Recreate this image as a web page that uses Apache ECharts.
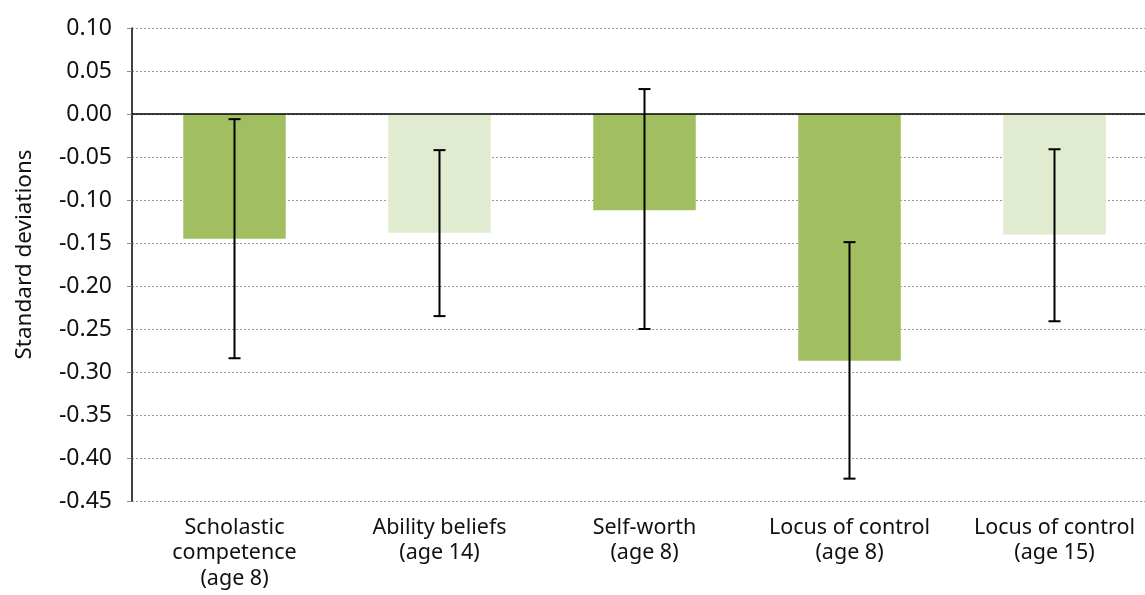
<!DOCTYPE html>
<html>
<head>
<meta charset="utf-8">
<script src="https://cdn.jsdelivr.net/npm/echarts@6/dist/echarts.min.js"></script>
<style>
  html, body { margin: 0; padding: 0; background: #fff; }
  #chart { width: 1145px; height: 595px; }
</style>
</head>
<body>
<div id="chart"></div>
<script>
const categories = [
  'Scholastic\ncompetence\n(age 8)',
  'Ability beliefs\n(age 14)',
  'Self-worth\n(age 8)',
  'Locus of control\n(age 8)',
  'Locus of control\n(age 15)'
]
const values = [-0.145, -0.138, -0.112, -0.287, -0.140]
const errLow = [-0.284, -0.235, -0.250, -0.424, -0.241]
const errHigh = [-0.006, -0.042, 0.029, -0.149, -0.041]
const barColors = ['#a1bf60', '#e0ebcf', '#a1bf60', '#a1bf60', '#e0ebcf']

const textColor = '#111'
const font = 'Noto Sans'

const chart = echarts.init(document.getElementById('chart'))

chart.setOption({
  animation: false,
  grid: {
    left: 132,
    top: 28,
    right: -12,
    bottom: 94,
    outerBoundsMode: 'none'
  },
  xAxis: {
    type: 'category',
    data: categories,
    axisLine: { show: false, onZero: false },
    axisTick: { show: false },
    axisLabel: {
      color: textColor,
      fontFamily: font,
      fontSize: 21.5,
      lineHeight: 25.5,
      margin: 14,
      interval: 0
    }
  },
  yAxis: {
    type: 'value',
    min: -0.45,
    max: 0.1,
    interval: 0.05,
    name: 'Standard deviations',
    nameLocation: 'middle',
    nameGap: 96,
    nameTextStyle: { color: textColor, fontFamily: font, fontSize: 22.5, padding: [0, 0, 0, 20] },
    axisLine: { show: true, lineStyle: { color: '#000', width: 1.5 } },
    axisTick: { show: true, length: 5, lineStyle: { color: '#888' } },
    axisLabel: {
      color: textColor,
      fontFamily: font,
      fontSize: 23,
      margin: 20,
      formatter: v => v.toFixed(2)
    },
    splitLine: {
      show: true,
      lineStyle: { color: '#999', type: [2, 2], width: 1 }
    }
  },
  series: [
    {
      type: 'bar',
      barWidth: '50%',
      data: values.map((v, i) => ({ value: v, itemStyle: { color: barColors[i] } })),
      markLine: {
        silent: true,
        symbol: 'none',
        label: { show: false },
        lineStyle: { color: '#000', type: 'solid', width: 1.5 },
        data: [{ yAxis: 0 }]
      }
    },
    {
      type: 'custom',
      data: errLow.map((lo, i) => [i, lo, errHigh[i]]),
      renderItem(params, api) {
        const x = api.value(0)
        const lo = api.coord([x, api.value(1)])
        const hi = api.coord([x, api.value(2)])
        const half = 6
        const style = { stroke: '#000', lineWidth: 2 }
        return {
          type: 'group',
          children: [
            { type: 'line', shape: { x1: lo[0], y1: lo[1], x2: hi[0], y2: hi[1] }, style },
            { type: 'line', shape: { x1: lo[0] - half, y1: lo[1], x2: lo[0] + half, y2: lo[1] }, style },
            { type: 'line', shape: { x1: hi[0] - half, y1: hi[1], x2: hi[0] + half, y2: hi[1] }, style }
          ]
        }
      },
      z: 5
    }
  ]
})
</script>
</body>
</html>
